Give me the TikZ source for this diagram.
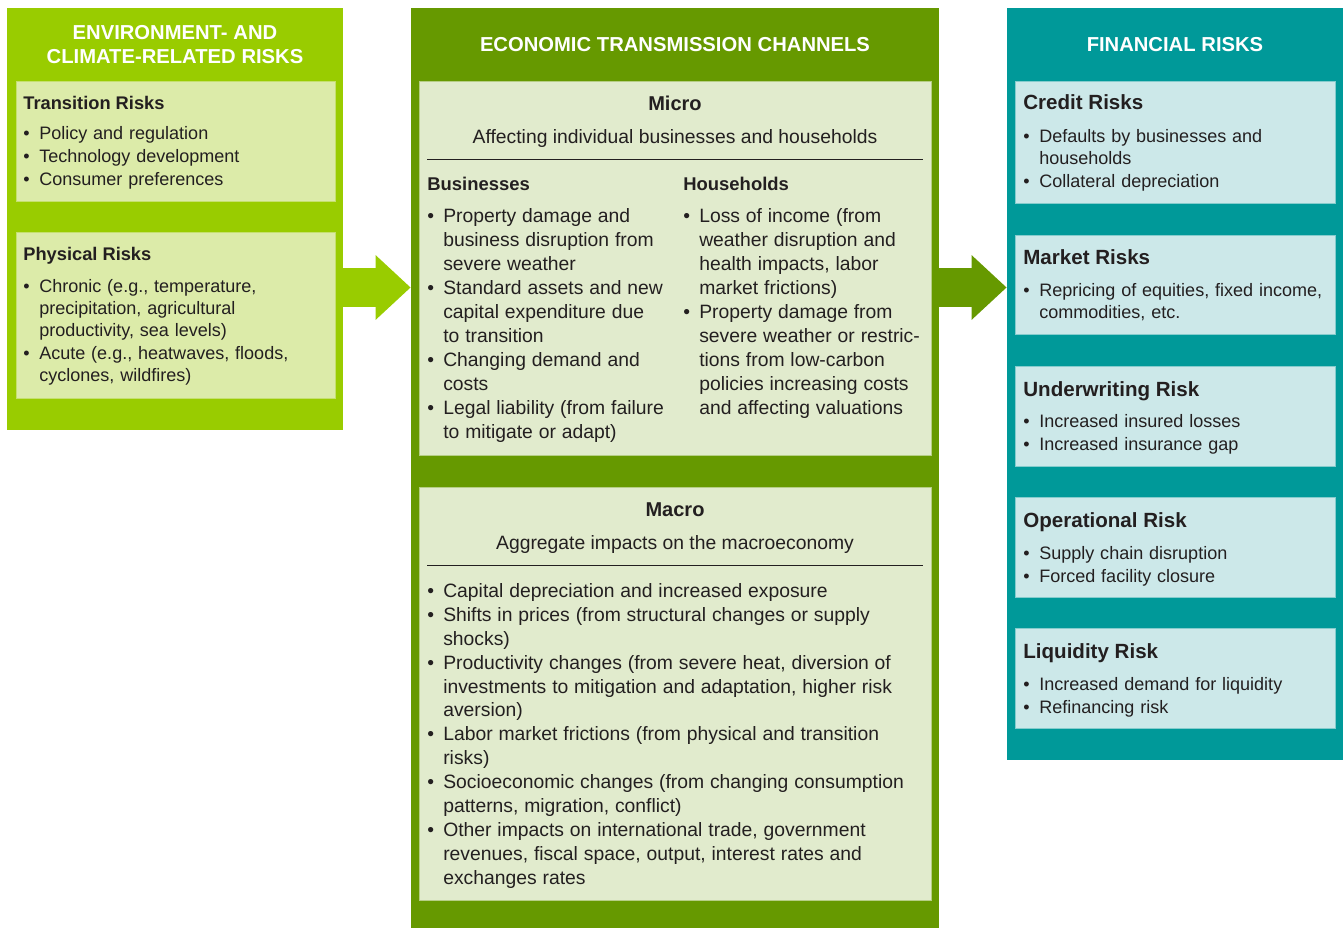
\documentclass[tikz,border=0pt]{standalone}
\usepackage{fontspec}
\setmainfont{Liberation Sans}
\usetikzlibrary{fit,arrows.meta}
\definecolor{envgreen}{HTML}{99CC00}
\definecolor{envbox}{HTML}{DCEBA9}
\definecolor{midgreen}{HTML}{669900}
\definecolor{midbox}{HTML}{E1EBCD}
\definecolor{fingreen}{HTML}{009999}
\definecolor{finbox}{HTML}{CCE8E9}
\definecolor{ink}{HTML}{231F20}
\newlength\bind
\newcommand{\itm}[1]{\ifhmode\else\noindent\fi\hangindent=\bind\hangafter=1\hbox to\bind{\textbullet\hfil}#1\par}
\begin{document}
\begin{tikzpicture}[x=0.02cm,y=-0.02cm,
  panel/.style={fill=#1,inner sep=0,draw=none},
  box/.style 2 args={fill=#1,draw=#1!65!#2,line width=0.5pt,inner sep=0},
  panelhd/.style={anchor=base,inner sep=0,text=white,text width=10cm,align=center,
    execute at begin node={\bfseries\fontsize{11.5}{13.6}\selectfont}},
  sidehd/.style={anchor=base west,inner sep=0,text=ink,font=\bfseries\fontsize{10.4}{12}\selectfont},
  finhd/.style={anchor=base west,inner sep=0,text=ink,font=\bfseries\fontsize{11.7}{13}\selectfont},
  sidetxt/.style={anchor=base west,inner sep=0,text=ink,text width=6.2cm,align=left,
    execute at begin node={\fontsize{10.26}{12.47}\selectfont\setlength\bind{9.07pt}\setlength\parskip{0.7pt}}},
  midhd/.style={anchor=base,inner sep=0,text=ink,font=\bfseries\fontsize{11.4}{13}\selectfont},
  midsub/.style={anchor=base,inner sep=0,text=ink,font=\fontsize{11}{13}\selectfont},
  colhd/.style={anchor=base west,inner sep=0,text=ink,font=\bfseries\fontsize{10.5}{12}\selectfont},
  midtxt/.style={anchor=base west,inner sep=0,text=ink,text width=#1,align=left,
    execute at begin node={\fontsize{11}{13.6}\selectfont\setlength\bind{9.07pt}\setlength\parskip{0pt}}},
  rule/.style={draw=ink,line width=0.8pt},
  bigarrow/.style={draw=#1,line width=22.1pt,-{Triangle[length=20pt,width=35.7pt]}}]
\useasboundingbox (0,0) rectangle (1343,928);

% three columns
\node[panel=envgreen,fit={(7,8)(343,430)}] (env) {};
\node[panel=midgreen,fit={(411,8)(939,928)}] (etc) {};
\node[panel=fingreen,fit={(1007,8)(1343,760)}] (fin) {};
\node[panelhd] (envhd) at (175,39.3) {ENVIRONMENT- AND\\CLIMATE-RELATED RISKS};
\node[panelhd] (etchd) at (675,51.5) {ECONOMIC TRANSMISSION CHANNELS};
\node[panelhd] (finhd) at (1175,51.5) {FINANCIAL RISKS};

% left column
\node[box={envbox}{envgreen},fit={(16,81)(335,201)}] (trans) {};
\node[sidehd] (transhd) at (23,110) {Transition Risks};
\node[sidetxt] (translist) at (23,139.3) {\itm{Policy and regulation}\itm{Technology development}\itm{Consumer preferences}};
\node[box={envbox}{envgreen},fit={(16,232)(335,398)}] (phys) {};
\node[sidehd] (physhd) at (23,261) {Physical Risks};
\node[sidetxt] (physlist) at (23,292.3) {\itm{Chronic (e.g., temperature,\newline precipitation, agricultural\newline productivity, sea levels)}\itm{Acute (e.g., heatwaves, floods,\newline cyclones, wildfires)}};

% middle column
\node[box={midbox}{midgreen},fit={(419,81)(931,455)}] (micro) {};
\node[midhd] (microhd) at (675,111) {Micro};
\node[midsub] (microsub) at (675,143.3) {Affecting individual businesses and households};
\draw[rule] (427,159.5) -- (923,159.5);
\node[colhd] (bushd) at (427,190.7) {Businesses};
\node[colhd] (hhhd) at (683,190.7) {Households};
\node[midtxt=5cm] (buslist) at (427,223) {\itm{Property damage and\newline business disruption from\newline severe weather}\itm{Standard assets and new\newline capital expenditure due\newline to transition}\itm{Changing demand and\newline costs}\itm{Legal liability (from failure\newline to mitigate or adapt)}};
\node[midtxt=4.9cm] (hhlist) at (683,223) {\itm{Loss of income (from\newline weather disruption and\newline health impacts, labor\newline market frictions)}\itm{Property damage from\newline severe weather or restric-\newline tions from low-carbon\newline policies increasing costs\newline and affecting valuations}};

\node[box={midbox}{midgreen},fit={(419,487)(931,900)}] (macro) {};
\node[midhd] (macrohd) at (675,517) {Macro};
\node[midsub] (macrosub) at (675,549.3) {Aggregate impacts on the macroeconomy};
\draw[rule] (427,565.5) -- (923,565.5);
\node[midtxt=9.8cm] (macrolist) at (427,597.5) {\itm{Capital depreciation and increased exposure}\itm{Shifts in prices (from structural changes or supply\newline shocks)}\itm{Productivity changes (from severe heat, diversion of\newline investments to mitigation and adaptation, higher risk\newline aversion)}\itm{Labor market frictions (from physical and transition\newline risks)}\itm{Socioeconomic changes (from changing consumption\newline patterns, migration, conflict)}\itm{Other impacts on international trade, government\newline revenues, fiscal space, output, interest rates and\newline exchanges rates}};

% right column
\node[box={finbox}{fingreen},fit={(1015,81)(1335,203)}] (credit) {};
\node[finhd] (credithd) at (1023,110) {Credit Risks};
\node[sidetxt] (creditlist) at (1023,142.3) {\itm{Defaults by businesses and\newline households}\itm{Collateral depreciation}};
\node[box={finbox}{fingreen},fit={(1015,235)(1335,334)}] (market) {};
\node[finhd] (markethd) at (1023,265) {Market Risks};
\node[sidetxt] (marketlist) at (1023,296.3) {\itm{Repricing of equities, fixed income,\newline commodities, etc.}};
\node[box={finbox}{fingreen},fit={(1015,366)(1335,466)}] (under) {};
\node[finhd] (underhd) at (1023,397) {Underwriting Risk};
\node[sidetxt] (underlist) at (1023,427.3) {\itm{Increased insured losses}\itm{Increased insurance gap}};
\node[box={finbox}{fingreen},fit={(1015,497)(1335,597)}] (oper) {};
\node[finhd] (operhd) at (1023,528) {Operational Risk};
\node[sidetxt] (operlist) at (1023,559.3) {\itm{Supply chain disruption}\itm{Forced facility closure}};
\node[box={finbox}{fingreen},fit={(1015,628)(1335,728)}] (liq) {};
\node[finhd] (liqhd) at (1023,659) {Liquidity Risk};
\node[sidetxt] (liqlist) at (1023,690.3) {\itm{Increased demand for liquidity}\itm{Refinancing risk}};

% arrows between columns
\coordinate (ay) at (0,287.5);
\draw[bigarrow=envgreen] (env.east |- ay) -- (etc.west |- ay);
\draw[bigarrow=midgreen] (etc.east |- ay) -- (fin.west |- ay);
\end{tikzpicture}
\end{document}
